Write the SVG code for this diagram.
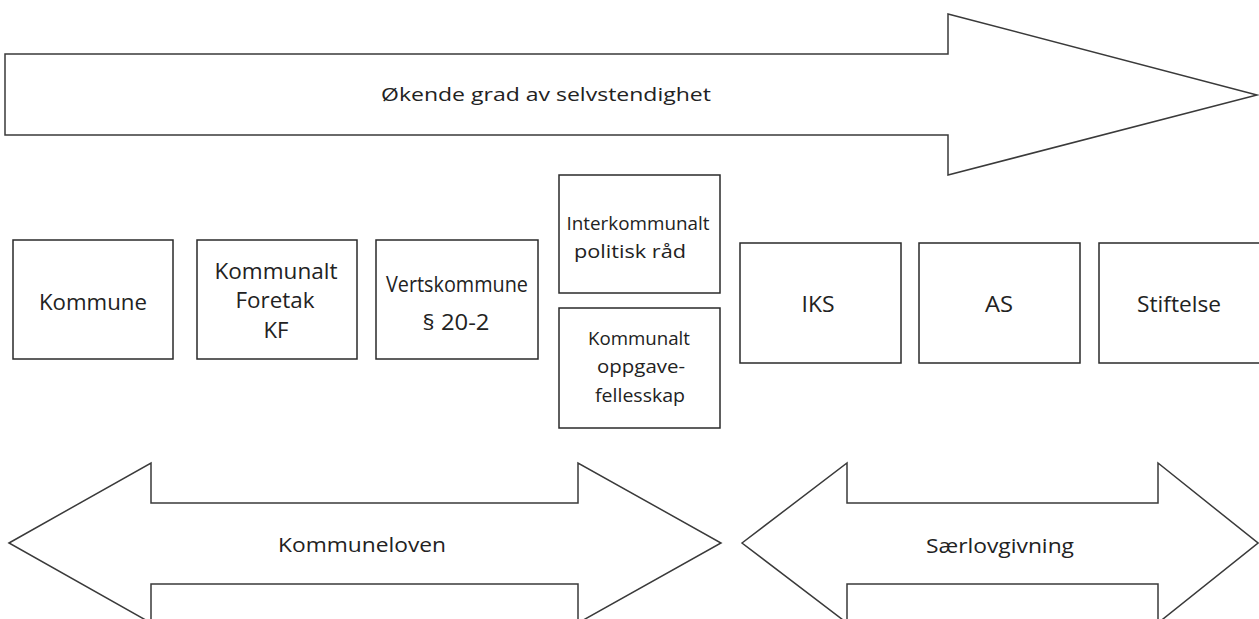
<svg xmlns="http://www.w3.org/2000/svg" width="1259" height="619" viewBox="0 0 1259 619">
<style>
.shape{fill:#fff;stroke:#3a3a3a;stroke-width:1.5}
.box{fill:#fff;stroke:#2a2a2a;stroke-width:1.5}
text{font-family:"Open Sans","Liberation Sans",sans-serif;fill:#222;text-anchor:middle}
.l{font-size:21px}
.m{font-size:20px}
.s{font-size:19px}
</style>
<rect width="1259" height="619" fill="#fff"/>
<g id="connectors">
<g id="arrow-top">
<polygon class="shape" points="5,54 948,54 948,14 1257,95 948,175 948,135 5,135"/>
<text class="s" x="546" y="101" textLength="330" lengthAdjust="spacingAndGlyphs">Økende grad av selvstendighet</text>
</g>
<g id="arrow-kommuneloven">
<polygon class="shape" points="9,543 151,463 151,503 578,503 578,463 721,543 578,623 578,584 151,584 151,623"/>
<text class="m" x="362" y="552" textLength="168" lengthAdjust="spacingAndGlyphs">Kommuneloven</text>
</g>
<g id="arrow-saerlov">
<polygon class="shape" points="742,543 847,463 847,503 1158,503 1158,463 1258,543 1158,623 1158,584 847,584 847,623"/>
<text class="m" x="1000" y="553" textLength="148" lengthAdjust="spacingAndGlyphs">Særlovgivning</text>
</g>
</g>
<g id="kommune">
<rect class="box" x="13" y="240" width="160" height="119"/>
<text class="l" x="93" y="310" textLength="108" lengthAdjust="spacingAndGlyphs">Kommune</text>
</g>
<g id="kf">
<rect class="box" x="197" y="240" width="160" height="119"/>
<text class="l" x="276" y="279" textLength="123" lengthAdjust="spacingAndGlyphs">Kommunalt</text>
<text class="l" x="275" y="308" textLength="79" lengthAdjust="spacingAndGlyphs">Foretak</text>
<text class="l" x="276" y="338" textLength="25" lengthAdjust="spacingAndGlyphs">KF</text>
</g>
<g id="vertskommune">
<rect class="box" x="376" y="240" width="162" height="119"/>
<text class="l" x="457" y="292" textLength="142" lengthAdjust="spacingAndGlyphs">Vertskommune</text>
<text class="l" x="456" y="330" textLength="67" lengthAdjust="spacingAndGlyphs">§ 20-2</text>
</g>
<g id="interkommunalt">
<rect class="box" x="559" y="175" width="161" height="118"/>
<text class="s" x="638" y="230" textLength="143" lengthAdjust="spacingAndGlyphs">Interkommunalt</text>
<text class="s" x="630" y="258" textLength="112" lengthAdjust="spacingAndGlyphs">politisk råd</text>
</g>
<g id="oppgavefellesskap">
<rect class="box" x="559" y="308" width="161" height="120"/>
<text class="s" x="639" y="345" textLength="102" lengthAdjust="spacingAndGlyphs">Kommunalt</text>
<text class="s" x="641" y="373" textLength="88" lengthAdjust="spacingAndGlyphs">oppgave-</text>
<text class="s" x="640" y="402" textLength="90" lengthAdjust="spacingAndGlyphs">fellesskap</text>
</g>
<g id="iks">
<rect class="box" x="740" y="243" width="161" height="120"/>
<text class="l" x="818" y="312" textLength="33" lengthAdjust="spacingAndGlyphs">IKS</text>
</g>
<g id="as">
<rect class="box" x="919" y="243" width="161" height="120"/>
<text class="l" x="999" y="312" textLength="28" lengthAdjust="spacingAndGlyphs">AS</text>
</g>
<g id="stiftelse">
<rect class="box" x="1099" y="243" width="162" height="120"/>
<text class="l" x="1179" y="312" textLength="84" lengthAdjust="spacingAndGlyphs">Stiftelse</text>
</g>
</svg>
